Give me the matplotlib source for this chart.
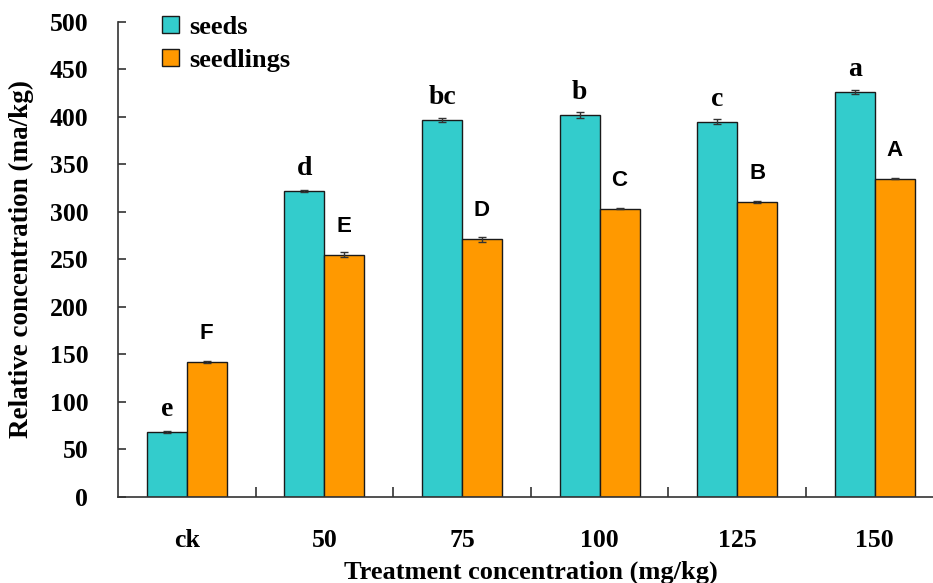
import matplotlib
matplotlib.use("Agg")
import matplotlib.pyplot as plt
import numpy as np

categories = ["ck", "50", "75", "100", "125", "150"]
seeds = [68, 322, 397, 402, 395, 426]
seeds_err = [1, 1, 2, 3, 3, 2]
seedlings = [142, 255, 271, 303, 310, 335]
seedlings_err = [1, 3, 3, 0.5, 1, 0.5]
seeds_letters = ["e", "d", "bc", "b", "c", "a"]
seedlings_letters = ["F", "E", "D", "C", "B", "A"]

serif = "Liberation Serif"
sans = "Liberation Sans"

fig = plt.figure(figsize=(9.33, 5.83), dpi=100)
ax = fig.add_axes([118/933, (583-496.8)/583, 825.6/933, 475/583])

x = np.arange(len(categories))
w = 0.29
teal = "#33CCCC"
orange = "#FF9900"
ax.bar(x - w/2, seeds, w, color=teal, edgecolor="#1a1a1a", linewidth=1.0,
       yerr=seeds_err, error_kw=dict(ecolor="#333333", elinewidth=1, capsize=3, capthick=1),
       label="seeds", zorder=2)
ax.bar(x + w/2, seedlings, w, color=orange, edgecolor="#1a1a1a", linewidth=1.0,
       yerr=seedlings_err, error_kw=dict(ecolor="#333333", elinewidth=1, capsize=3, capthick=1),
       label="seedlings", zorder=2)

for i in range(len(categories)):
    ax.annotate(seeds_letters[i], (x[i] - w/2, seeds[i]), xytext=(0, 11.5),
                textcoords="offset points", ha="center", va="baseline",
                fontsize=20, fontweight="bold", family=serif)
    ax.annotate(seedlings_letters[i], (x[i] + w/2, seedlings[i]), xytext=(0, 16.5),
                textcoords="offset points", ha="center", va="baseline",
                fontsize=16, fontweight="bold", family=sans)

ax.set_xlim(-0.5, 5.5)
ax.set_ylim(0, 500)
ax.set_yticks(np.arange(0, 501, 50))
ax.set_xticks(x)
ax.set_xticklabels(categories)
ax.set_xticks(np.arange(0.5, 5, 1), minor=True)
ax.tick_params(axis="x", which="major", length=0, pad=23)
ax.tick_params(axis="x", which="minor", direction="in", length=7, width=1.2, color="#333333")
ax.tick_params(axis="y", direction="in", length=6, width=1.2, color="#333333", pad=21.5)
for lab in ax.get_xticklabels() + ax.get_yticklabels():
    lab.set_family(serif)
    lab.set_fontweight("bold")
    lab.set_fontsize(18.5)

ax.spines["top"].set_visible(False)
ax.spines["right"].set_visible(False)
ax.spines["left"].set_color("#333333")
ax.spines["bottom"].set_color("#333333")
ax.spines["left"].set_linewidth(1.2)
ax.spines["bottom"].set_linewidth(1.2)

ax.set_xlabel("Treatment concentration (mg/kg)", family=serif, fontweight="bold", fontsize=19)
ax.xaxis.set_label_coords(0.5, -0.135)
ax.set_ylabel("Relative concentration (ma/kg)", family=serif, fontweight="bold", fontsize=19.5)
ax.yaxis.set_label_coords(-0.102, 0.5)

ax.legend(loc="upper left", bbox_to_anchor=(44/825.6, 1.012), frameon=False,
          prop=dict(family=serif, weight="bold", size=19),
          handlelength=0.65, handleheight=0.6, handletextpad=0.4, labelspacing=0.38,
          borderpad=0, borderaxespad=0)

fig.savefig("out.png", dpi=100)
